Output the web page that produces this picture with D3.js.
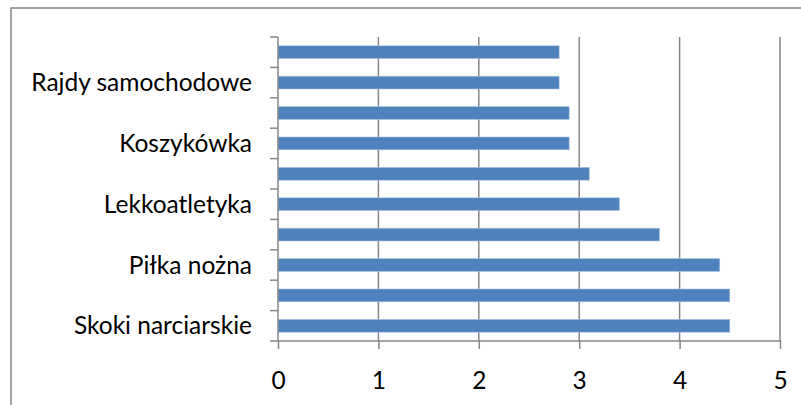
<!DOCTYPE html>
<html><head><meta charset="utf-8">
<script src="https://cdn.jsdelivr.net/npm/d3@7"></script>
<style>
html,body{margin:0;padding:0;background:#fff;}
svg{display:block;}
text{font-family:Lato,"Open Sans",sans-serif;fill:#000;}
</style></head><body>
<svg id="c" width="801" height="405"></svg>
<script>
// categories from bottom to top (only every other label is shown in the original)
const categories = ["Skoki narciarskie","","Piłka nożna","","Lekkoatletyka","","Koszykówka","","Rajdy samochodowe",""];
const values = [4.5, 4.5, 4.4, 3.8, 3.4, 3.1, 2.9, 2.9, 2.8, 2.8];
const xTicks = [0,1,2,3,4,5];

const svg = d3.select("#c");
const m = {left:278, right:780, top:37, bottom:341};
const gridColor = "#878787";
const fontSize = "24.5px";

// outer frame
svg.append("rect").attr("x",11).attr("y",8).attr("width",820).attr("height",420)
  .attr("fill","none").attr("stroke",gridColor).attr("stroke-width",1.5);

const x = d3.scaleLinear().domain([0,5]).range([m.left,m.right]);
const idx = d3.range(categories.length);
const y = d3.scaleBand().domain(idx).range([m.bottom,m.top]).paddingInner(0.58).paddingOuter(0.29);

// vertical gridlines
svg.append("g").selectAll("line").data(xTicks.slice(1)).join("line")
  .attr("x1",d=>x(d)).attr("x2",d=>x(d)).attr("y1",m.top).attr("y2",m.bottom)
  .attr("stroke",gridColor).attr("stroke-width",1.5);

// bars
svg.append("g").selectAll("rect").data(values).join("rect")
  .attr("x",x(0)).attr("y",(d,i)=>y(i)).attr("width",d=>x(d)-x(0)).attr("height",y.bandwidth())
  .attr("fill","#4F81BD").attr("stroke","#A7C0DE").attr("stroke-width",0.6);

// x axis
const xAxis = d3.axisBottom(x).tickValues(xTicks).tickSize(8).tickPadding(23).tickFormat(d3.format("d"));
const gx = svg.append("g").attr("transform",`translate(0,${m.bottom})`).call(xAxis);
gx.select(".domain").attr("stroke",gridColor).attr("stroke-width",1.5).attr("d",`M${m.left},0H${m.right}`);
gx.selectAll(".tick line").attr("stroke",gridColor).attr("stroke-width",1.5).attr("y1",-1);
gx.selectAll(".tick text").style("font-size",fontSize).attr("font-family","Lato,'Open Sans',sans-serif");

// y axis line
svg.append("line").attr("x1",m.left).attr("x2",m.left).attr("y1",m.top).attr("y2",m.bottom)
  .attr("stroke",gridColor).attr("stroke-width",1.5);
// y tick marks at band boundaries
const boundaries = d3.range(categories.length+1).map(i=>m.bottom - i*(m.bottom-m.top)/categories.length);
svg.append("g").selectAll("line").data(boundaries).join("line")
  .attr("x1",m.left-8).attr("x2",m.left).attr("y1",d=>d).attr("y2",d=>d)
  .attr("stroke",gridColor).attr("stroke-width",1.5);

// y labels
svg.append("g").selectAll("text").data(idx.filter(i=>categories[i]!=="")).join("text")
  .attr("x",252).attr("y",i=>y(i)+y.bandwidth()/2).attr("dy","0.35em")
  .attr("text-anchor","end").style("font-size",fontSize)
  .text(i=>categories[i]);
</script>
</body></html>
